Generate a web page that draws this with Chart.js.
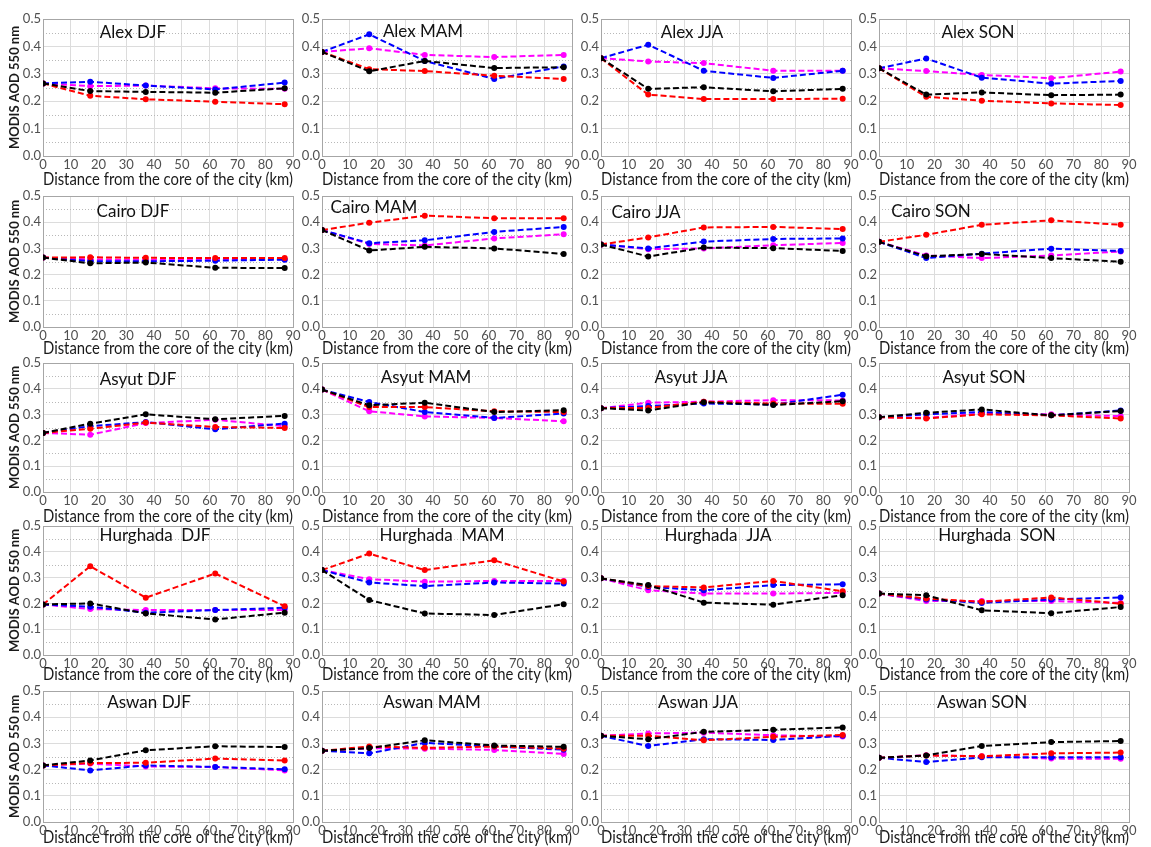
<!DOCTYPE html>
<html><head><meta charset="utf-8">
<script src="https://cdn.jsdelivr.net/npm/chart.js@4.4.0/dist/chart.umd.min.js"></script>
<style>
html,body{margin:0;padding:0;background:#fff;overflow:hidden;width:1151px;height:847px;}
canvas{position:absolute;}
</style></head><body>
<script>
// ---------- data ----------
const distances = [0, 17, 37, 62, 87];               // km from city core
const xTickValues = [0,10,20,30,40,50,60,70,80,90];
const yTickValues = [0,0.1,0.2,0.3,0.4,0.5];
const yMinorValues = [0.05,0.15,0.25,0.35,0.45];
const cities = ["Alex","Cairo","Asyut","Hurghada","Aswan"];
const seasons = ["DJF","MAM","JJA","SON"];
const panelTitles = [
  ["Alex DJF","Alex MAM","Alex JJA","Alex SON"],
  ["Cairo DJF","Cairo MAM","Cairo JJA","Cairo SON"],
  ["Asyut DJF","Asyut MAM","Asyut JJA","Asyut SON"],
  ["Hurghada  DJF","Hurghada  MAM","Hurghada  JJA","Hurghada  SON"],
  ["Aswan DJF","Aswan MAM","Aswan JJA","Aswan SON"]
];
const seriesColors = ["#000000","#ff0000","#0000ff","#ff00ff"];
const seriesNames = ["black","red","blue","magenta"];
const xAxisTitle = "Distance from the core of the city (km)";
const yAxisTitle = "MODIS AOD 550 nm";

// rows per season: DJF, MAM, JJA, SON
const alexBlack   = [[0.265,0.237,0.234,0.231,0.247],[0.38,0.309,0.347,0.321,0.324],[0.357,0.245,0.251,0.236,0.245],[0.32,0.224,0.232,0.222,0.224]];
const alexRed     = [[0.265,0.22,0.207,0.198,0.189],[0.38,0.317,0.31,0.293,0.281],[0.357,0.224,0.208,0.208,0.209],[0.32,0.216,0.202,0.192,0.186]];
const alexBlue    = [[0.265,0.271,0.257,0.243,0.268],[0.38,0.444,0.347,0.281,0.327],[0.357,0.406,0.311,0.285,0.311],[0.32,0.356,0.286,0.264,0.274]];
const alexMagenta = [[0.265,0.255,0.257,0.247,0.245],[0.38,0.393,0.369,0.361,0.369],[0.357,0.345,0.339,0.311,0.311],[0.32,0.31,0.296,0.284,0.308]];

const cairoBlack   = [[0.265,0.243,0.246,0.226,0.225],[0.37,0.292,0.306,0.3,0.279],[0.315,0.269,0.303,0.301,0.29],[0.325,0.27,0.279,0.263,0.249]];
const cairoRed     = [[0.265,0.266,0.264,0.263,0.263],[0.37,0.398,0.425,0.415,0.415],[0.315,0.342,0.38,0.382,0.374],[0.325,0.352,0.39,0.407,0.39]];
const cairoBlue    = [[0.265,0.251,0.251,0.253,0.257],[0.37,0.32,0.331,0.363,0.382],[0.315,0.3,0.326,0.336,0.338],[0.325,0.263,0.28,0.299,0.29]];
const cairoMagenta = [[0.265,0.258,0.256,0.258,0.259],[0.37,0.317,0.311,0.338,0.354],[0.315,0.297,0.3,0.312,0.321],[0.325,0.273,0.263,0.273,0.288]];

const asyutBlack   = [[0.229,0.265,0.301,0.282,0.295],[0.397,0.336,0.346,0.31,0.317],[0.325,0.316,0.348,0.337,0.352],[0.29,0.307,0.32,0.297,0.314]];
const asyutRed     = [[0.229,0.245,0.269,0.252,0.248],[0.397,0.329,0.329,0.313,0.31],[0.325,0.326,0.35,0.343,0.342],[0.29,0.285,0.301,0.297,0.285]];
const asyutBlue    = [[0.229,0.255,0.271,0.243,0.265],[0.397,0.349,0.31,0.287,0.304],[0.325,0.333,0.343,0.339,0.377],[0.29,0.301,0.31,0.297,0.316]];
const asyutMagenta = [[0.229,0.222,0.267,0.28,0.255],[0.397,0.313,0.293,0.287,0.274],[0.325,0.346,0.35,0.356,0.355],[0.29,0.287,0.305,0.301,0.294]];

const hurghadaBlack   = [[0.196,0.2,0.161,0.138,0.164],[0.329,0.213,0.161,0.155,0.197],[0.297,0.271,0.203,0.195,0.232],[0.238,0.232,0.173,0.162,0.186]];
const hurghadaRed     = [[0.196,0.344,0.222,0.316,0.189],[0.329,0.393,0.329,0.367,0.285],[0.297,0.267,0.262,0.287,0.247],[0.238,0.219,0.206,0.223,0.199]];
const hurghadaBlue    = [[0.196,0.187,0.164,0.174,0.183],[0.329,0.281,0.267,0.281,0.277],[0.297,0.264,0.251,0.271,0.274],[0.238,0.215,0.202,0.215,0.223]];
const hurghadaMagenta = [[0.196,0.178,0.174,0.174,0.174],[0.329,0.294,0.284,0.287,0.287],[0.297,0.251,0.238,0.238,0.241],[0.238,0.209,0.209,0.209,0.202]];

const aswanBlack   = [[0.216,0.235,0.274,0.289,0.286],[0.272,0.282,0.312,0.292,0.287],[0.329,0.316,0.344,0.352,0.361],[0.245,0.254,0.29,0.305,0.309]];
const aswanRed     = [[0.216,0.225,0.226,0.242,0.235],[0.272,0.288,0.283,0.288,0.28],[0.329,0.329,0.312,0.325,0.332],[0.245,0.254,0.251,0.262,0.265]];
const aswanBlue    = [[0.216,0.197,0.216,0.21,0.201],[0.272,0.262,0.302,0.288,0.276],[0.329,0.29,0.316,0.313,0.329],[0.245,0.229,0.247,0.247,0.247]];
const aswanMagenta = [[0.216,0.223,0.212,0.21,0.197],[0.272,0.282,0.28,0.275,0.26],[0.329,0.338,0.341,0.331,0.326],[0.245,0.255,0.251,0.242,0.241]];

const citySeries = [
  [alexBlack, alexRed, alexBlue, alexMagenta],
  [cairoBlack, cairoRed, cairoBlue, cairoMagenta],
  [asyutBlack, asyutRed, asyutBlue, asyutMagenta],
  [hurghadaBlack, hurghadaRed, hurghadaBlue, hurghadaMagenta],
  [aswanBlack, aswanRed, aswanBlue, aswanMagenta]
];

// ---------- layout ----------
const colLeft = [43, 322, 601, 879];
const plotW = 250;
const rowTop = [19, 196, 363, 526, 691];
const rowBottom = [156, 327, 492, 655, 822];
const xTitleCenter = [180, 349, 517, 675, 838];
const titlePos = [
  [[90,14],[101,13],[91,14],[99,14]],
  [[90,16],[52,12],[45,17],[52,16]],
  [[95,17],[104,15],[90,15],[105,15]],
  [[112,10],[120,10],[117,10],[118,10]],
  [[106,12],[110,12],[97,12],[103,12]]
];

Chart.defaults.font.family = "Lato, 'Open Sans', sans-serif";

const deco = {
  id: 'deco',
  beforeDatasetsDraw(chart, args, opts) {
    const {ctx, chartArea: a, scales: {y}} = chart;
    ctx.save();
    ctx.strokeStyle = '#b8b8b8';
    ctx.lineWidth = 1;
    ctx.setLineDash([1, 2]);
    yMinorValues.forEach(v => {
      const py = Math.round(y.getPixelForValue(v)) + 0.5;
      ctx.beginPath(); ctx.moveTo(a.left, py); ctx.lineTo(a.right, py); ctx.stroke();
    });
    ctx.setLineDash([]);
    ctx.strokeStyle = '#a6a6a6';
    ctx.strokeRect(Math.round(a.left) + 0.5, Math.round(a.top) + 0.5, Math.round(a.right - a.left), Math.round(a.bottom - a.top));
    ctx.restore();
  },
  afterDatasetsDraw(chart, args, opts) {
    const {ctx, chartArea: a} = chart;
    ctx.save();
    ctx.font = "17px Lato, 'Open Sans', sans-serif";
    ctx.fillStyle = '#111';
    ctx.textAlign = 'center';
    ctx.textBaseline = 'middle';
    ctx.fillText(opts.text, a.left + opts.dx, a.top + opts.dy);
    ctx.restore();
  }
};

function makePanel(r, c) {
  const yw = c === 0 ? 43 : 30;
  const topPad = 10, rightPad = 26;
  const plotH = rowBottom[r] - rowTop[r];
  const xh = xTitleCenter[r] - rowBottom[r] + 10;
  const cw = yw + plotW + rightPad, ch = topPad + plotH + xh;
  const canvas = document.createElement('canvas');
  canvas.width = cw; canvas.height = ch;
  canvas.style.width = cw + 'px'; canvas.style.height = ch + 'px';
  canvas.style.left = (colLeft[c] - yw) + 'px';
  canvas.style.top = (rowTop[r] - topPad) + 'px';
  document.body.appendChild(canvas);

  const datasets = citySeries[r].map((ser, k) => ({
    label: cities[r] + ' ' + seasons[c] + ' ' + seriesNames[k],
    data: distances.map((d, i) => ({x: d, y: ser[c][i]})),
    borderColor: seriesColors[k],
    backgroundColor: seriesColors[k],
    borderWidth: 2,
    borderDash: [6, 3],
    pointRadius: 3,
    pointBorderWidth: 0,
    pointBackgroundColor: seriesColors[k],
    tension: 0,
    fill: false
  }));

  new Chart(canvas, {
    type: 'line',
    data: {datasets},
    options: {
      responsive: false,
      animation: false,
      devicePixelRatio: 1,
      events: [],
      layout: {padding: {left: 0, right: rightPad, top: topPad, bottom: 0}},
      plugins: {
        legend: {display: false},
        tooltip: {enabled: false},
        deco: {text: panelTitles[r][c], dx: titlePos[r][c][0], dy: titlePos[r][c][1]}
      },
      scales: {
        x: {
          type: 'linear', min: 0, max: 90,
          afterBuildTicks: s => { s.ticks = xTickValues.map(v => ({value: v})); },
          afterFit: s => { s.height = xh; s.paddingLeft = 0; s.paddingRight = 0; },
          grid: {color: '#dcdcdc', lineWidth: 1, drawTicks: false},
          border: {display: false},
          ticks: {color: '#505050', font: {size: 13}, padding: 1, maxRotation: 0, autoSkip: false, callback: v => String(v)},
          title: {display: true, text: xAxisTitle, color: '#1a1a1a', font: {size: 17, lineHeight: 1.2}, padding: {top: 0, bottom: 0}}
        },
        y: {
          min: 0, max: 0.5,
          afterBuildTicks: s => { s.ticks = yTickValues.map(v => ({value: v})); },
          afterFit: s => { s.width = yw; s.paddingTop = 0; s.paddingBottom = 0; },
          grid: {color: '#dcdcdc', lineWidth: 1, drawTicks: false},
          border: {display: false},
          ticks: {color: '#505050', font: {size: 13}, padding: 2, callback: v => v.toFixed(1)},
          title: {display: c === 0, text: yAxisTitle, color: '#1a1a1a', font: {size: 13, weight: 'bold', lineHeight: 1.2}, padding: {top: 7, bottom: 0}}
        }
      }
    },
    plugins: [deco]
  });
}

for (let r = 0; r < 5; r++) for (let c = 0; c < 4; c++) makePanel(r, c);
</script>
</body></html>
